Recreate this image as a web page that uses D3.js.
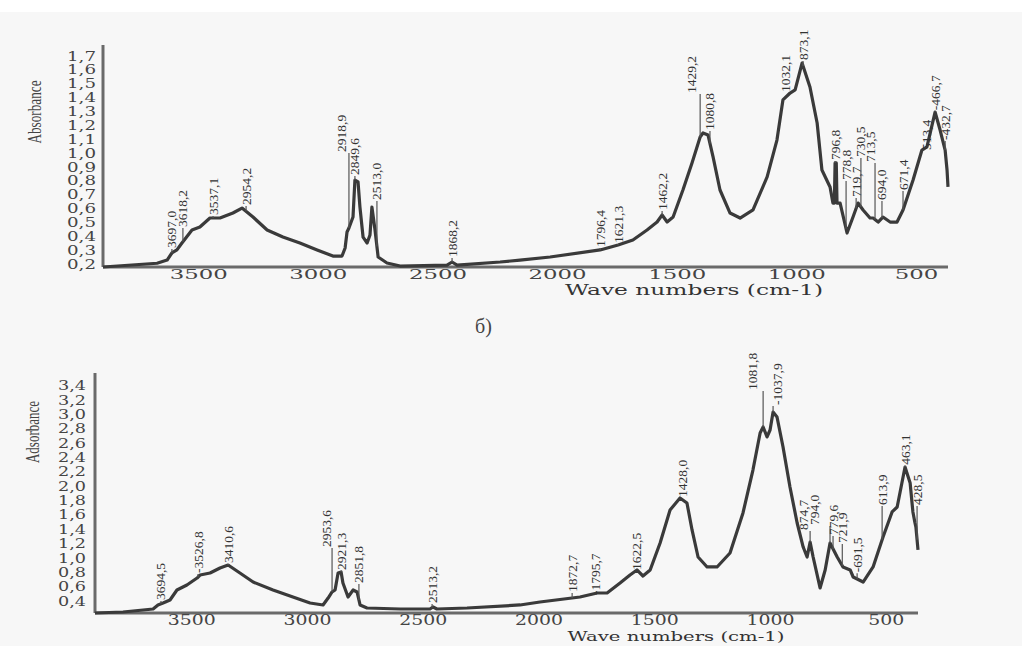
<!DOCTYPE html>
<html><head><meta charset="utf-8">
<script src="https://cdn.jsdelivr.net/npm/d3@7"></script>
<style>body{margin:0;background:#fff}svg{display:block}</style>
</head><body><svg id="c" width="1022" height="646"></svg>
<script>
// ---------- DATA ----------
const xTicks = [3500, 3000, 2500, 2000, 1500, 1000, 500];
const topYTicks = [0.2,0.3,0.4,0.5,0.6,0.7,0.8,0.9,1.0,1.1,1.2,1.3,1.4,1.5,1.6,1.7];
const bottomYTicks = [0.4,0.6,0.8,1.0,1.2,1.4,1.6,1.8,2.0,2.2,2.4,2.6,2.8,3.0,3.2,3.4];

// spectrum a) top
const topWave = [3900,3674,3632,3612,3591,3570,3528,3495,3453,3411,3357,3319,3273,3214,3148,3077,3005,2939,2901,2888,2880,2872,2855,2847,2834,2826,2813,2796,2784,2776,2763,2750,2713,2658,2462,2441,2420,2240,2157,2031,1822,1747,1685,1626,1584,1563,1542,1517,1476,1438,1404,1392,1371,1350,1321,1279,1237,1183,1124,1083,1058,1028,1007,978,945,915,895,861,849,843,840,835,832,819,790,765,744,723,694,681,660,640,610,581,556,514,477,456,422,401,380,372,368];
const topAbs  = [0.18,0.207,0.23,0.281,0.303,0.353,0.447,0.468,0.533,0.533,0.569,0.605,0.54,0.447,0.396,0.353,0.303,0.259,0.259,0.317,0.432,0.461,0.54,0.807,0.793,0.612,0.396,0.353,0.411,0.612,0.447,0.252,0.209,0.187,0.194,0.216,0.194,0.216,0.23,0.252,0.303,0.339,0.375,0.447,0.504,0.555,0.504,0.54,0.735,0.93,1.117,1.146,1.131,0.973,0.735,0.569,0.533,0.591,0.829,1.095,1.384,1.434,1.456,1.65,1.477,1.218,0.879,0.757,0.641,0.641,0.93,0.93,0.641,0.641,0.425,0.54,0.641,0.591,0.533,0.533,0.504,0.54,0.504,0.504,0.591,0.807,1.023,1.045,1.297,1.167,1.023,0.879,0.757];
const topLabels    = ["3697,0","3618,2","3537,1","2954,2","2918,9","2849,6","2513,0","1868,2","1796,4","1621,3","1462,2","1429,2","1080,8","1032,1","873,1","796,8","778,8","719,7","730,5","713,5","694,0","671,4","513,4","-466,7","-432,7"];
const topLabelWave = [3612,3566,3440,3302,2905,2847,2755,2441,1822,1747,1563,1442,1363,1049,974,840,794,752,732,690,644,556,456,422,380];
const topPeakWave  = [3612,3566,3440,3302,2872,2847,2755,2441,1822,1747,1563,1404,1363,1028,974,840,794,752,732,673,644,556,456,422,380];
const topLabelAbs  = [0.317,0.468,0.555,0.627,1.009,0.843,0.663,0.252,0.324,0.353,0.591,1.434,1.167,1.441,1.672,0.951,0.807,0.685,0.973,0.937,0.663,0.735,1.023,1.31,1.095];

// spectrum b) bottom
const bottomWave = [3918,3797,3667,3646,3624,3594,3564,3521,3477,3464,3421,3378,3343,3292,3235,3149,3063,2989,2933,2911,2894,2881,2868,2855,2847,2825,2803,2786,2773,2743,2600,2471,2458,2441,2311,2082,1996,1823,1749,1706,1650,1607,1577,1551,1520,1477,1434,1391,1361,1339,1313,1274,1231,1175,1119,1076,1045,1032,1015,1002,989,972,946,916,885,859,842,829,816,786,764,743,712,687,656,643,600,557,514,475,453,419,397,385,376,372,363];
const bottomAbs  = [0.233,0.247,0.289,0.345,0.372,0.414,0.554,0.624,0.721,0.763,0.791,0.861,0.902,0.791,0.665,0.554,0.456,0.372,0.345,0.442,0.526,0.554,0.791,0.805,0.651,0.456,0.554,0.526,0.345,0.303,0.289,0.289,0.317,0.289,0.303,0.345,0.386,0.456,0.512,0.512,0.651,0.763,0.833,0.749,0.833,1.209,1.67,1.837,1.767,1.391,1.014,0.875,0.875,1.07,1.628,2.227,2.743,2.827,2.688,2.785,3.036,2.966,2.548,1.99,1.488,1.153,1.014,1.223,1.014,0.582,0.833,1.209,1.014,0.875,0.833,0.735,0.665,0.875,1.293,1.642,1.711,2.269,2.046,1.642,1.488,1.432,1.112];
const bottomLabels    = ["3694,5","-3526,8","3410,6","2953,6","2921,3","2851,8","2513,2","1872,7","-1795,7","1622,5","1428,0","1081,8","-1037,9","874,7","794,0","779,6","721,9","-691,5","613,9","463,1","428,5"];
const bottomLabelWave = [3633,3473,3343,2920,2855,2778,2462,1857,1754,1577,1382,1080,972,859,808,730,690,626,518,415,367];
const bottomPeakWave  = [3633,3473,3343,2894,2855,2778,2462,1857,1754,1577,1391,1032,989,829,743,730,690,626,518,419,367];
const bottomLabelAbs  = [0.414,0.791,0.93,1.153,0.833,0.651,0.372,0.526,0.484,0.833,1.851,3.343,3.134,1.39,1.46,1.32,1.21,0.80,1.74,2.30,1.74];

// ---------- DRAW ----------
const svg = d3.select("#c");
svg.append("rect").attr("x",0).attr("y",12).attr("width",1022).attr("height",634).attr("fill","#f7f7f7");

const INK = "#3a3a3a";

function interp(W, A, w){
  for(let i=0;i<W.length-1;i++){
    if(w<=W[i] && w>=W[i+1]){
      const t=(W[i]-w)/(W[i]-W[i+1]);
      return A[i]+(A[i+1]-A[i])*t;
    }
  }
  return A[A.length-1];
}

function panel(o){
  const x = d3.scaleLinear().domain(o.xDomain).range(o.xRange);
  const y = d3.scaleLinear().domain(o.yDomain).range(o.yRange);
  const g = svg.append("g");

  g.append("line").attr("x1",x.range()[0]).attr("x2",x.range()[0]).attr("y1",y.range()[0]).attr("y2",y.range()[1])
    .attr("stroke","#6a6a6a").attr("stroke-width",3);
  g.append("line").attr("x1",x.range()[0]).attr("x2",x.range()[1]).attr("y1",y.range()[0]).attr("y2",y.range()[0])
    .attr("stroke","#6a6a6a").attr("stroke-width",3);

  g.selectAll(".yt").data(o.yTicks).join("text")
    .attr("x",o.yLabelRight).attr("y",d=>y(d)).attr("text-anchor","end").attr("dominant-baseline","central")
    .attr("font-family","DejaVu Serif").attr("font-size",o.yFont).attr("fill","#444")
    .attr("textLength",o.yLen).attr("lengthAdjust","spacingAndGlyphs")
    .text(d=>d.toFixed(1).replace(".",","));

  g.selectAll(".xt").data(xTicks).join("text")
    .attr("x",d=>x(d)).attr("y",o.xLabelY).attr("text-anchor","middle")
    .attr("font-family","DejaVu Serif").attr("font-size",o.xFont).attr("fill","#444")
    .attr("textLength",d=>String(d).length*o.xDigit).attr("lengthAdjust","spacingAndGlyphs")
    .text(d=>d);

  g.append("text").attr("x",o.titleX).attr("y",o.titleY).attr("text-anchor","middle")
    .attr("font-family","DejaVu Serif").attr("font-size",o.titleFont).attr("fill","#333")
    .attr("textLength",o.titleLen).attr("lengthAdjust","spacingAndGlyphs").text("Wave numbers (cm-1)");
  g.append("text").attr("transform",`translate(${o.yTitleX},${o.yTitleY}) rotate(-90)`)
    .attr("text-anchor","middle").attr("dominant-baseline","central")
    .attr("font-family","Liberation Serif").attr("font-size",18).attr("fill","#444")
    .attr("textLength",o.yTitleLen).attr("lengthAdjust","spacingAndGlyphs").text(o.yTitle);

  const pts = o.W.map((w,i)=>[w,o.A[i]]);
  g.append("path").datum(pts)
    .attr("d",d3.line().x(d=>x(d[0])).y(d=>y(d[1])))
    .attr("fill","none").attr("stroke",INK).attr("stroke-width",3.2).attr("stroke-linejoin","round");

  o.labels.forEach((t,i)=>{
    const px = x(o.peakW[i]);
    const cy = y(interp(o.W,o.A,o.peakW[i]));
    const ly = y(o.labelA[i]);
    if(cy-ly>1){
      g.append("line").attr("x1",px).attr("x2",px).attr("y1",cy).attr("y2",ly+1)
        .attr("stroke","#555").attr("stroke-width",1.2);
    }
    g.append("text").attr("transform",`translate(${x(o.labelW[i])},${ly}) rotate(-90)`)
      .attr("text-anchor","start").attr("dominant-baseline","central")
      .attr("font-family","Liberation Serif").attr("font-size",13.5).attr("fill","#333")
      .text(t);
  });
}

panel({
  xDomain:[3900,368], xRange:[103,948], yDomain:[0.18,1.78], yRange:[267,45],
  yTicks:topYTicks, yLabelRight:96, yFont:13, yLen:29,
  xLabelY:279, xFont:13, xDigit:14.5,
  titleX:694, titleY:295, titleFont:15, titleLen:258,
  yTitle:"Absorbance", yTitleX:35, yTitleY:112, yTitleLen:63,
  W:topWave, A:topAbs, labels:topLabels, labelW:topLabelWave, peakW:topPeakWave, labelA:topLabelAbs
});

panel({
  xDomain:[3918,363], xRange:[95,918], yDomain:[0.233,3.58], yRange:[613,373],
  yTicks:bottomYTicks, yLabelRight:86, yFont:13, yLen:28,
  xLabelY:625, xFont:14, xDigit:12,
  titleX:676, titleY:641, titleFont:13.5, titleLen:217,
  yTitle:"Adsorbance", yTitleX:33, yTitleY:432, yTitleLen:62,
  W:bottomWave, A:bottomAbs, labels:bottomLabels, labelW:bottomLabelWave, peakW:bottomPeakWave, labelA:bottomLabelAbs
});

svg.append("text").attr("x",475).attr("y",333).attr("font-family","Liberation Serif").attr("font-size",20)
  .attr("fill","#444").text("б)");
</script>
</body></html>
